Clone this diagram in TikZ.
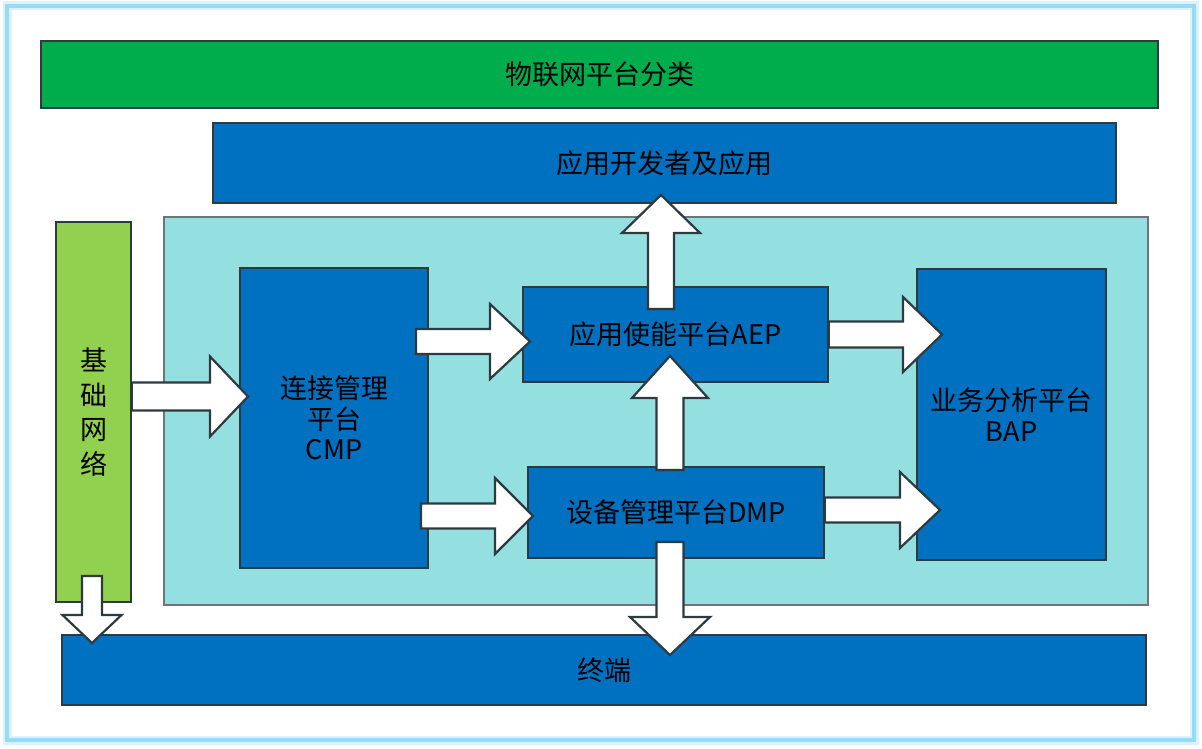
\documentclass[tikz,border=0pt]{standalone}
\usepackage{fontspec}
\newfontfamily\cjk{Noto Sans CJK SC}
\usetikzlibrary{calc}
\definecolor{cgreen}{RGB}{0,173,77}
\definecolor{cblue}{RGB}{0,112,192}
\definecolor{cteal}{RGB}{148,224,224}
\definecolor{clime}{RGB}{146,208,80}
\definecolor{cline}{RGB}{45,58,64}
\definecolor{cframe}{RGB}{150,218,245}
\newcommand\fatarrow[5]{%
  \coordinate (hb) at ($(#2)!#5!(#1)$);
  \draw[fatarr] ($(#1)!#3!90:(#2)$) -- ($(hb)!#3!90:(#2)$) -- ($(hb)!#4!90:(#2)$) -- (#2)
    -- ($(hb)!#4!-90:(#2)$) -- ($(hb)!#3!-90:(#2)$) -- ($(#1)!#3!-90:(#2)$) -- cycle;}
\begin{document}
\begin{tikzpicture}[x=1pt,y=-1pt,
  box/.style={draw=cline, line width=1.4pt, inner sep=0pt, text=black, align=center,
    font=\cjk\fontsize{27}{30.5}\selectfont},
  fatarr/.style={draw=cline, fill=white, line width=2.2pt, line join=miter}]
\useasboundingbox (0,0) rectangle (1202,749);
\fill[white] (0,0) rectangle (1202,749);
% outer frame glow
\draw[cframe, opacity=0.35, line width=9pt] (7,6) rectangle (1194,740);
\draw[cframe, line width=4pt] (7,6) rectangle (1194,740);
% boxes
\node[box, fill=cgreen, minimum width=1117pt, minimum height=67pt] (title) at (599.5,74.5) {物联网平台分类};
\node[box, fill=cblue, minimum width=903pt, minimum height=80pt] (app) at (664.5,163) {应用开发者及应用};
\node[box, draw=cline!70, fill=cteal, minimum width=984pt, minimum height=388pt] (plat) at (656,411) {};
\node[box, fill=clime, minimum width=75pt, minimum height=380pt,
  font=\cjk\fontsize{27}{34.5}\selectfont] (net) at (93.5,412) {基\\础\\网\\络};
\node[box, fill=cblue, minimum width=188pt, minimum height=300pt] (cmp) at (334,418) {连接管理\\平台\\CMP};
\node[box, fill=cblue, minimum width=305pt, minimum height=95pt] (aep) at (675.5,334.5) {应用使能平台AEP};
\node[box, fill=cblue, minimum width=296pt, minimum height=91pt] (dmp) at (676,512.5) {设备管理平台DMP};
\node[box, fill=cblue, minimum width=189pt, minimum height=291pt] (bap) at (1011.5,414.5) {业务分析平台\\BAP};
\node[box, fill=cblue, minimum width=1084pt, minimum height=70pt] (term) at (604,670) {终端};
% arrow end points
\coordinate (n1) at (net.east |- 0,396.5);  \coordinate (c1) at (248,396.5);
\coordinate (c2) at (416,341.5);  \coordinate (a2) at (530,341.5);
\coordinate (c3) at (421,516);    \coordinate (d3) at (533,516);
\coordinate (a4) at (aep.east |- 0,334.5); \coordinate (b4) at (942,334.5);
\coordinate (d5) at (dmp.east |- 0,510);   \coordinate (b5) at (940,510);
\coordinate (a6) at (661,309);    \coordinate (p6) at (661,195);
\coordinate (d7) at (670,470);    \coordinate (a7) at (670,356);
\coordinate (d8) at (670,542);    \coordinate (t8) at (670,655);
\coordinate (n9) at (92,576);     \coordinate (t9) at (92,643);
% block arrows
\fatarrow{n1}{c1}{14pt}{40pt}{38pt}
\fatarrow{c2}{a2}{12.5pt}{37.5pt}{40pt}
\fatarrow{c3}{d3}{12.5pt}{38pt}{38pt}
\fatarrow{a4}{b4}{13pt}{37.5pt}{39pt}
\fatarrow{d5}{b5}{12.5pt}{38pt}{40pt}
\fatarrow{a6}{p6}{13pt}{39pt}{38pt}
\fatarrow{d7}{a7}{13.5pt}{38pt}{42pt}
\fatarrow{d8}{t8}{13.5pt}{40pt}{38pt}
\fatarrow{n9}{t9}{10pt}{29.5pt}{28pt}
\end{tikzpicture}
\end{document}
